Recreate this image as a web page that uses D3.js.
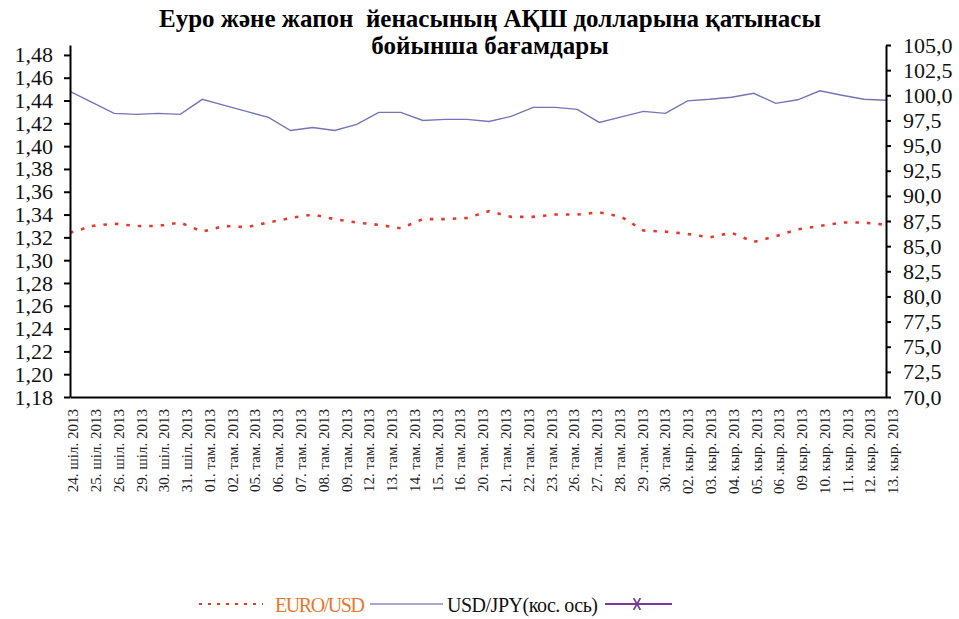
<!DOCTYPE html>
<html>
<head>
<meta charset="utf-8">
<script src="https://cdn.jsdelivr.net/npm/d3@7"></script>
<style>
  body { margin: 0; background: #fff; }
  svg { display: block; font-family: "Liberation Serif", "DejaVu Serif", serif; }
</style>
</head>
<body>
<svg id="viz" width="959" height="619"></svg>
<script>
// Data

var dateLabels = ["24. шіл. 2013", "25. шіл. 2013", "26. шіл. 2013", "29. шіл. 2013", "30. шіл. 2013",
  "31. шіл. 2013", "01. там. 2013", "02. там. 2013", "05. там. 2013", "06. там. 2013",
  "07. там. 2013", "08. там. 2013", "09. там. 2013", "12. там. 2013", "13. там. 2013",
  "14. там. 2013", "15. там. 2013", "16. там. 2013", "20. там. 2013", "21. там. 2013",
  "22. там. 2013", "23. там. 2013", "26. там. 2013", "27. там. 2013", "28. там. 2013",
  "29 .там. 2013", "30. там. 2013", "02. кыр. 2013", "03. кыр. 2013", "04. кыр. 2013",
  "05. кыр. 2013", "06 .кыр. 2013", "09 кыр. 2013", "10. кыр. 2013", "11. кыр. 2013",
  "12. кыр. 2013", "13. кыр. 2013"];

var euroUsd = [1.324, 1.330, 1.332, 1.330, 1.330, 1.333, 1.325, 1.330, 1.329, 1.333,
  1.337, 1.340, 1.336, 1.333, 1.331, 1.328, 1.336, 1.336, 1.337, 1.343,
  1.338, 1.338, 1.340, 1.340, 1.342, 1.338, 1.326, 1.325, 1.323, 1.320,
  1.324, 1.316, 1.321, 1.327, 1.330, 1.333, 1.333, 1.331];

var usdJpy = [100.4, 99.3, 98.2, 98.1, 98.2, 98.1, 99.6, 99.0, 98.4, 97.8,
  96.5, 96.8, 96.5, 97.1, 98.3, 98.3, 97.5, 97.6, 97.6, 97.4,
  97.9, 98.8, 98.8, 98.6, 97.3, 97.85, 98.4, 98.2, 99.45, 99.6,
  99.8, 100.2, 99.2, 99.55, 100.45, 100.0, 99.6, 99.5];

var leftTicks = [1.18, 1.20, 1.22, 1.24, 1.26, 1.28, 1.30, 1.32, 1.34, 1.36, 1.38, 1.40, 1.42, 1.44, 1.46, 1.48];
var rightTicks = [70, 72.5, 75, 77.5, 80, 82.5, 85, 87.5, 90, 92.5, 95, 97.5, 100, 102.5, 105];

var titleLines = ["Еуро және жапон  йенасының АҚШ долларына қатынасы", "бойынша бағамдары"];
var legendNames = ["EURO/USD", "USD/JPY(кос. ось)"];

// Scales

var svg = d3.select("#viz");

var plotLeft = 70, plotRight = 886, plotTop = 45, plotBottom = 397;

var x = d3.scaleLinear().domain([0, euroUsd.length - 1]).range([plotLeft, plotRight]);
var xLabels = d3.scalePoint().domain(dateLabels).range([73, 893]);

var yLeft = d3.scaleLinear().domain([1.18, 1.4887]).range([plotBottom, plotTop]);
var yRight = d3.scaleLinear().domain([70, 105]).range([plotBottom, plotTop]);

var commaFmt = function(f) {
  return function(d) { return d3.format(f)(d).replace(".", ","); };
};

// Title

svg.append("g").selectAll("text")
  .data(titleLines)
  .enter().append("text")
    .attr("x", 490)
    .attr("y", (d, i) => 27 + i * 27)
    .attr("text-anchor", "middle")
    .attr("font-weight", "bold")
    .attr("font-size", 25)
    .style("white-space", "pre")
    .text(d => d);

// Lines

var euroLine = d3.line().x((d, i) => x(i)).y(d => yLeft(d));
var yenLine = d3.line().x((d, i) => x(i)).y(d => yRight(d));

svg.append("path")
  .datum(usdJpy)
  .attr("d", yenLine)
  .attr("fill", "none")
  .attr("stroke", "#7474b6")
  .attr("stroke-width", 1.4);

svg.append("path")
  .datum(euroUsd)
  .attr("d", euroLine)
  .attr("fill", "none")
  .attr("stroke", "#e5392c")
  .attr("stroke-width", 2.6)
  .attr("stroke-dasharray", "3.5,8");

// Axes

var leftAxis = svg.append("g")
  .attr("transform", "translate(" + plotLeft + ",0)")
  .call(d3.axisLeft(yLeft).tickValues(leftTicks).tickFormat(commaFmt(".2f"))
    .tickSize(6).tickSizeOuter(0).tickPadding(11));

var rightAxis = svg.append("g")
  .attr("transform", "translate(" + plotRight + ",0)")
  .call(d3.axisRight(yRight).tickValues(rightTicks).tickFormat(commaFmt(".1f"))
    .tickSize(5).tickSizeOuter(0).tickPadding(12));

var bottomAxis = svg.append("g")
  .attr("transform", "translate(0," + plotBottom + ")")
  .call(d3.axisBottom(x).tickValues([]).tickSizeOuter(0));

svg.selectAll(".domain").attr("stroke", "#000").attr("stroke-width", 2);
svg.selectAll(".tick line").attr("stroke", "#000").attr("stroke-width", 2);
svg.selectAll(".tick text")
  .attr("font-family", "Liberation Serif")
  .attr("font-size", 22)
  .attr("fill", "#111");

// Date labels

svg.append("g").selectAll("text")
  .data(dateLabels)
  .enter().append("text")
    .attr("transform", d => "translate(" + xLabels(d) + ",409) rotate(-90)")
    .attr("dy", "0.35em")
    .attr("text-anchor", "end")
    .attr("font-size", 15)
    .attr("fill", "#222")
    .text(d => d);

// Legend

var legend = svg.append("g");

legend.append("line")
  .attr("x1", 199).attr("x2", 263).attr("y1", 604).attr("y2", 604)
  .attr("stroke", "#e5392c").attr("stroke-width", 2.2).attr("stroke-dasharray", "3,6");

legend.append("text")
  .attr("x", 275).attr("y", 612)
  .attr("font-size", 20)
  .attr("fill", "#e8772e")
  .attr("textLength", 90)
  .text(legendNames[0]);

legend.append("line")
  .attr("x1", 370).attr("x2", 443).attr("y1", 604).attr("y2", 604)
  .attr("stroke", "#8a8ac4").attr("stroke-width", 1.3);

legend.append("text")
  .attr("x", 447).attr("y", 612)
  .attr("font-size", 20)
  .attr("fill", "#111")
  .attr("textLength", 151)
  .text(legendNames[1]);

legend.append("line")
  .attr("x1", 605).attr("x2", 672).attr("y1", 604).attr("y2", 604)
  .attr("stroke", "#7a3a9c").attr("stroke-width", 2.2);

legend.append("path")
  .attr("transform", "translate(637,604) rotate(90)")
  .attr("d", d3.symbol(d3.symbolAsterisk, 130))
  .attr("fill", "none")
  .attr("stroke", "#7a3a9c")
  .attr("stroke-width", 1.8);
</script>
</body>
</html>
